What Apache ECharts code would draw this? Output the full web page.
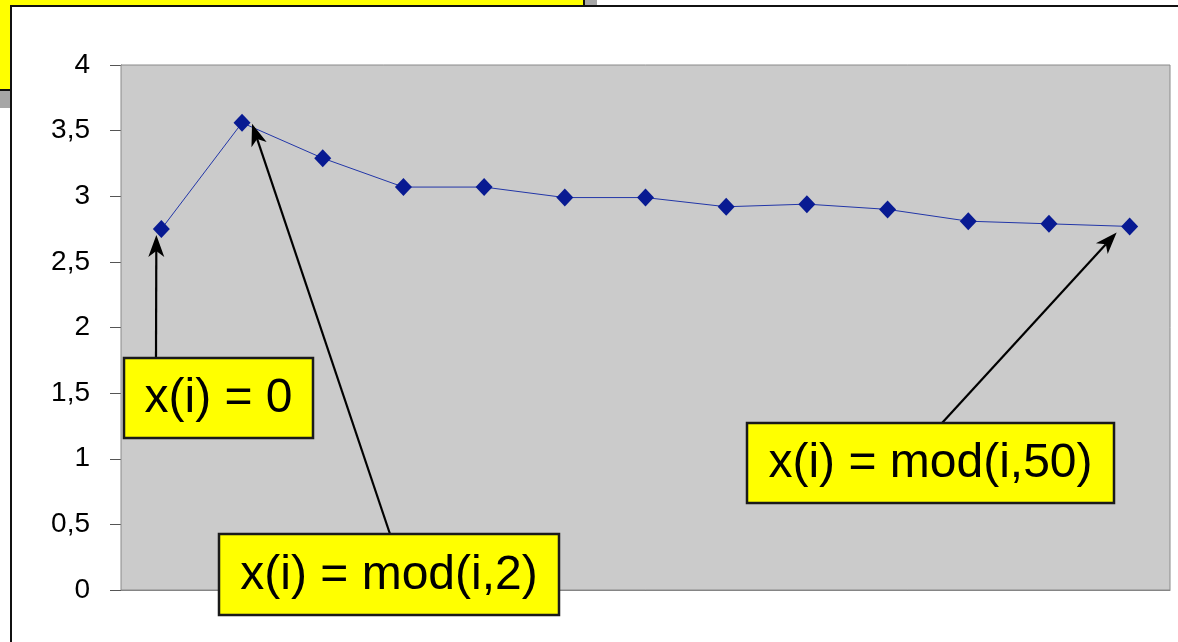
<!DOCTYPE html>
<html>
<head>
<meta charset="utf-8">
<title>Average per step</title>
<script src="https://cdn.jsdelivr.net/npm/echarts@6/dist/echarts.min.js"></script>
<style>
  html, body { margin: 0; padding: 0; background: #ffffff; }
  #main { width: 1178px; height: 642px; }
</style>
</head>
<body>
<div id="main"></div>
<script>
// Runs 1..13 and the measured value of each run
const categories = ['1', '2', '3', '4', '5', '6', '7', '8', '9', '10', '11', '12', '13'];
const values = [2.75, 3.56, 3.29, 3.07, 3.07, 2.99, 2.99, 2.92, 2.94, 2.90, 2.81, 2.79, 2.77];

// Value axis range
const yMin = 0;
const yMax = 4;
const yStep = 0.5;

// Callout texts and the run each one points to
const calloutTexts = ['x(i) = 0', 'x(i) = mod(i,2)', 'x(i) = mod(i,50)'];
const calloutTargets = [0, 1, 12];

// Callout placement: box rectangle, where the arrow leaves the box,
// and the arrow tip offset from its marker
const calloutLayout = [
  { box: [124, 358, 189, 80], from: [156, 358], tip: [-5, 6] },
  { box: [219, 534, 340, 81], from: [390, 534], tip: [10, 1] },
  { box: [747, 423, 367, 80], from: [942, 423], tip: [-13, 6] }
];

const FONT = '"Liberation Sans", Arial, Helvetica, sans-serif';

const chart = echarts.init(document.getElementById('main'), null, { renderer: 'canvas' });

chart.setOption({
  animation: false,
  backgroundColor: '#ffffff',
  grid: {
    left: 121, right: 8, top: 65, bottom: 52,
    show: true,
    backgroundColor: '#CBCBCB',
    borderColor: '#8a8a8a',
    borderWidth: 1,
    z: 1
  },
  xAxis: {
    type: 'category',
    data: categories,
    boundaryGap: true,
    axisLine: { show: true, lineStyle: { color: '#808080', width: 1 } },
    axisTick: { show: false },
    axisLabel: { show: false },
    splitLine: { show: false }
  },
  yAxis: {
    type: 'value',
    min: yMin,
    max: yMax,
    interval: yStep,
    axisLine: { show: true, lineStyle: { color: '#6a6a6a', width: 1 } },
    axisTick: { show: true, length: 11, lineStyle: { color: '#555555', width: 1 } },
    axisLabel: {
      formatter: function (v) { return String(v).replace('.', ','); },
      fontFamily: 'Liberation Sans',
      fontSize: 28,
      color: '#000000',
      margin: 31
    },
    splitLine: { show: true, lineStyle: { color: '#3a3a3a', width: 1 } }
  },
  series: [{
    type: 'line',
    data: values,
    symbol: 'diamond',
    symbolSize: [17, 18],
    showSymbol: true,
    lineStyle: { color: '#2236A8', width: 1 },
    itemStyle: { color: '#081A92' },
    z: 3
  }]
});

// Page frame: the yellow title card behind, with its shadow, and the white sheet on top
const graphics = [
  { type: 'rect', z: -30, silent: true, shape: { x: 0, y: 0, width: 597, height: 108 }, style: { fill: '#A6A6A6' } },
  { type: 'rect', z: -29, silent: true, shape: { x: -4, y: -4, width: 588, height: 94 }, style: { fill: '#FFFF00', stroke: '#111111', lineWidth: 2 } },
  { type: 'rect', z: -28, silent: true, shape: { x: 11, y: 6, width: 1200, height: 700 }, style: { fill: '#ffffff', stroke: '#111111', lineWidth: 2 } }
];

// Arrow from a box edge to a data marker
function arrow(from, tip) {
  const dx = tip[0] - from[0];
  const dy = tip[1] - from[1];
  const len = Math.sqrt(dx * dx + dy * dy);
  const ux = dx / len, uy = dy / len;
  const nx = -uy, ny = ux;
  const L = 22, W = 8, notch = 6;
  const bx = tip[0] - ux * L, by = tip[1] - uy * L;
  const mx = tip[0] - ux * (L - notch), my = tip[1] - uy * (L - notch);
  return [
    { type: 'line', z: 50, silent: true,
      shape: { x1: from[0], y1: from[1], x2: mx, y2: my },
      style: { stroke: '#000000', lineWidth: 2.2 } },
    { type: 'polygon', z: 51, silent: true,
      shape: { points: [tip, [bx + nx * W, by + ny * W], [mx, my], [bx - nx * W, by - ny * W]] },
      style: { fill: '#000000' } }
  ];
}

calloutTexts.forEach(function (text, i) {
  const lay = calloutLayout[i];
  const idx = calloutTargets[i];
  const p = chart.convertToPixel({ seriesIndex: 0 }, [idx, values[idx]]);
  const tip = [p[0] + lay.tip[0], p[1] + lay.tip[1]];
  arrow(lay.from, tip).forEach(function (g) { graphics.push(g); });
  const b = lay.box;
  graphics.push({
    type: 'rect', z: 60, silent: true,
    shape: { x: b[0], y: b[1], width: b[2], height: b[3] },
    style: { fill: '#FFFF00', stroke: '#1a1a1a', lineWidth: 2.5 }
  });
  graphics.push({
    type: 'text', z: 61, silent: true,
    x: b[0] + b[2] / 2, y: b[1] + b[3] / 2 + 1,
    style: { text: text, font: '48px ' + FONT, fill: '#000000', align: 'center', verticalAlign: 'middle' }
  });
});

chart.setOption({ graphic: graphics });
</script>
</body>
</html>
